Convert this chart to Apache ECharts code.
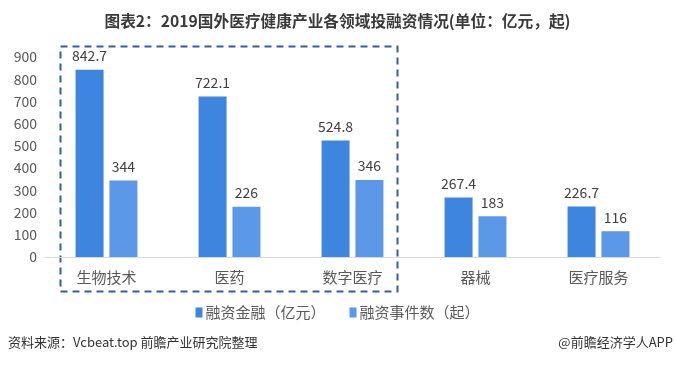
<!DOCTYPE html>
<html><head><meta charset="utf-8">
<script src="https://cdn.jsdelivr.net/npm/echarts@6/dist/echarts.min.js"></script>
<style>html,body{margin:0;padding:0;background:#fff}#c{width:675px;height:366px}</style>
</head><body><div id="c"></div>
<script>
const categories = ['生物技术','医药','数字医疗','器械','医疗服务'];
const amountValues = [842.7, 722.1, 524.8, 267.4, 226.7];
const countValues = [344, 226, 346, 183, 116];
const seriesNames = ['融资金融（亿元）','融资事件数（起）'];
const yTicks = [0,100,200,300,400,500,600,700,800,900];

const FONT = '"Noto Sans CJK SC", "Noto Sans", sans-serif';
const chart = echarts.init(document.getElementById('c'), null, {renderer:'canvas'});
chart.setOption({
  animation:false,
  backgroundColor:'#fff',
  title:{
    text:'图表2：2019国外医疗健康产业各领域投融资情况(单位：亿元，起)',
    left:'center', top:8,
    textStyle:{fontFamily:FONT, fontSize:15.7, fontWeight:'bold', color:'#3a3a3a'}
  },
  legend:{
    data:seriesNames, top:300, left:'center',
    itemWidth:7, itemHeight:10, itemGap:24,
    icon:'rect',
    textStyle:{fontFamily:FONT, fontSize:15, color:'#595959', padding:[0,0,0,-2]}
  },
  grid:{left:45, right:15, top:57, bottom:109},
  xAxis:{
    type:'category', data:categories,
    axisLine:{lineStyle:{color:'#d9d9d9', width:1}},
    axisTick:{show:false},
    axisLabel:{fontFamily:FONT, fontSize:15, color:'#595959', margin:13}
  },
  yAxis:{
    type:'value', min:yTicks[0], max:yTicks[yTicks.length-1], interval:100,
    axisLine:{show:false}, axisTick:{show:false},
    splitLine:{show:false},
    axisLabel:{fontFamily:FONT, fontSize:14, color:'#595959', margin:8}
  },
  series:[
    {name:seriesNames[0], type:'bar', data:amountValues, barWidth:28, barGap:'21%',
     itemStyle:{color:'#3e85e0'},
     label:{show:true, position:'top', distance:7, fontFamily:FONT, fontSize:14, color:'#404040'}},
    {name:seriesNames[1], type:'bar', data:countValues, barWidth:28,
     itemStyle:{color:'#5b98e7'},
     label:{show:true, position:'top', distance:7, fontFamily:FONT, fontSize:14, color:'#404040'}}
  ],
  graphic:[
    {type:'rect', shape:{x:60.5, y:46.5, width:337, height:245},
     style:{fill:'none', stroke:'#2f5fa6', lineWidth:2, lineDash:[7,5]}},
    {type:'text', left:8, top:336,
     style:{text:'资料来源：Vcbeat.top 前瞻产业研究院整理', font:'13px '+FONT, fill:'#333'}},
    {type:'text', right:2, top:336,
     style:{text:'@前瞻经济学人APP', font:'13px '+FONT, fill:'#333'}}
  ]
});
</script></body></html>
